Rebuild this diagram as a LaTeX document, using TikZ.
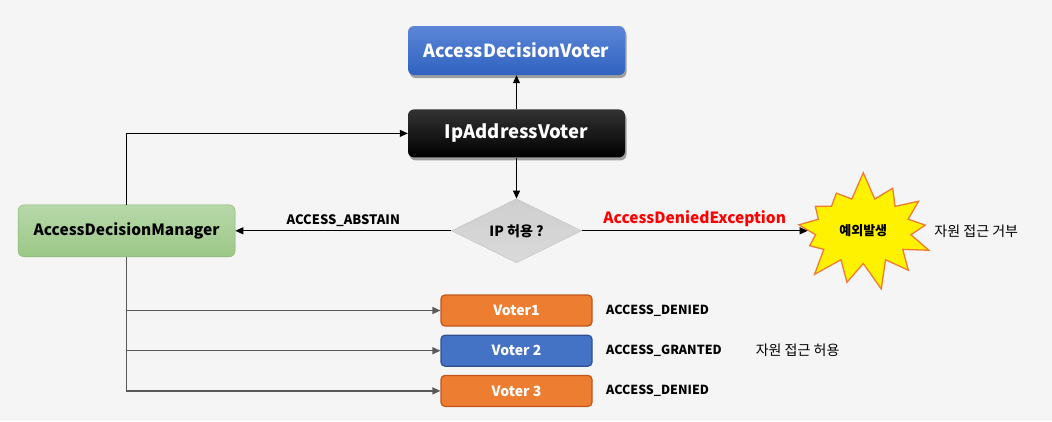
\documentclass[tikz,border=0pt]{standalone}
\usepackage{fontspec}
\setmainfont{Noto Sans CJK KR}
\usetikzlibrary{positioning, shapes.geometric, shapes.symbols, shadows, arrows.meta}
\definecolor{bg}{HTML}{F5F5F5}
\definecolor{advtop}{HTML}{5C86D8}
\definecolor{advbot}{HTML}{2F62BF}
\definecolor{admtop}{HTML}{B7D8A9}
\definecolor{admbot}{HTML}{9BC887}
\definecolor{admline}{HTML}{82B366}
\definecolor{vorange}{HTML}{ED7D31}
\definecolor{vorangeline}{HTML}{C0561A}
\definecolor{vblue}{HTML}{4472C4}
\definecolor{vblueline}{HTML}{2F528F}
\definecolor{ipgray}{HTML}{C6C6C6}

\begin{document}
\begin{tikzpicture}
		[
		x=1pt, y=1pt,
		font=\bfseries,
		box/.style ={rectangle, rounded corners=6pt, minimum width=217pt, align=center, text=white, drop shadow={shadow xshift=1.5pt, shadow yshift=-3pt, fill=black, opacity=0.35}},
		voter/.style ={rectangle, rounded corners=4pt, line width=1.2pt, minimum width=151pt, minimum height=31pt, text=white, font=\bfseries\fontsize{14}{16}\selectfont},
		tag/.style ={font=\bfseries\fontsize{12.5}{14}\selectfont},
		note/.style ={font=\mdseries\fontsize{14}{16}\selectfont},
		arr/.style ={-{Triangle[length=8pt, width=7pt]}, line width=1pt},
		varr/.style ={-{Triangle[length=8pt, width=7pt]}, line width=1.4pt, draw=black!65}
		]
		\useasboundingbox[fill=bg] (0,0) rectangle (1052,-421);
		\node[box, top color=advtop, bottom color=advbot, minimum height=49pt, font=\bfseries\fontsize{18}{20}\selectfont] (adv) at (516.5,-50.5) {AccessDecisionVoter};
		\node[box, below=34pt of adv, top color=black!80, bottom color=black, minimum height=48pt, font=\bfseries\fontsize{18.5}{20}\selectfont] (ipv) {IpAddressVoter};
		\node[diamond, aspect=2, inner sep=0pt, below=41pt of ipv, minimum width=130pt, minimum height=64pt, top color=ipgray!85, bottom color=ipgray!110!black, draw=black!25, font=\bfseries\fontsize{14}{16}\selectfont] (ip) {IP 허용 ?};
		\node[rectangle, rounded corners=6pt, left=216pt of ip, minimum width=217pt, minimum height=52pt, top color=admtop, bottom color=admbot, draw=admline, font=\bfseries\fontsize{15.5}{18}\selectfont] (adm) {AccessDecisionManager};
		\node[starburst, starburst points=13, starburst point height=28pt, random starburst=7, right=226pt of ip, inner xsep=10pt, inner ysep=17pt, fill=yellow, draw=vorange, line width=1.3pt, font=\bfseries\fontsize{13}{15}\selectfont] (burst) {예외발생};
		\node[note, right=13pt of burst] (deny) {자원 접근 거부};
		% voters
		\node[voter, fill=vorange, draw=vorangeline] (v1) at (516.5,-310.5) {Voter1};
		\node[voter, below=8pt of v1, fill=vblue, draw=vblueline] (v2) {Voter 2};
		\node[voter, below=8pt of v2, fill=vorange, draw=vorangeline] (v3) {Voter 3};
		\node[tag, right=10pt of v1] (r1) {ACCESS\_DENIED};
		\node[tag, right=10pt of v2] (r2) {ACCESS\_GRANTED};
		\node[tag, right=10pt of v3] (r3) {ACCESS\_DENIED};
		\node[note, right=27pt of r2] (grant) {자원 접근 허용};
		% connectors
		\draw[arr] (ipv.north) -- (adv.south);
		\draw[arr] (ipv.south) -- (ip.north);
		\draw[arr] (adm.north) |- (ipv.west);
		\draw[arr] (ip.west) -- node [midway, above, tag, font=\bfseries\fontsize{13}{15}\selectfont] {ACCESS\_ABSTAIN} (adm.east);
		\draw[arr] (ip.east) -- node [midway, above, text=red, font=\bfseries\fontsize{15.5}{18}\selectfont] {AccessDeniedException} (burst.west);
		\draw[varr] (adm.south) |- (v1.west);
		\draw[varr] (adm.south) |- (v2.west);
		\draw[varr] (adm.south) |- (v3.west);
	\end{tikzpicture}
\end{document}
